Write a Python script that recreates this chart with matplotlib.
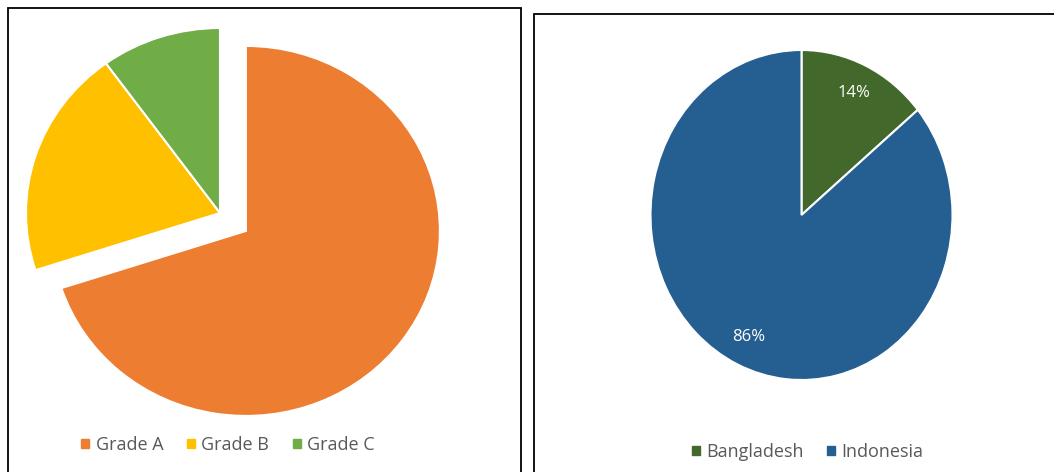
import matplotlib.pyplot as plt
from matplotlib.patches import Patch, Rectangle

plt.rcParams['font.family'] = ['Open Sans', 'DejaVu Sans']

# left chart: grades
grade_labels = ['Grade A', 'Grade B', 'Grade C']
grade_values = [70, 20, 10]
grade_colors = ['#ED7D31', '#FFC000', '#70AD47']

# right chart: countries
country_labels = ['Bangladesh', 'Indonesia']
country_values = [14, 86]
country_colors = ['#43682B', '#255E91']

W, H = 1054, 472
fig = plt.figure(figsize=(W / 100, H / 100), dpi=100)


def px_axes(cx, cy, rx, ry, lim=1.2):
    # axes placed so that radius 1 maps to rx/ry pixels around (cx, cy)
    w = 2 * lim * rx
    h = 2 * lim * ry
    ax = fig.add_axes([(cx - w / 2) / W, 1 - (cy + h / 2) / H, w / W, h / H])
    return ax


def finish(ax, lim=1.2):
    ax.set_xlim(-lim, lim)
    ax.set_ylim(-lim, lim)
    ax.set_aspect('auto')
    ax.axis('off')


# panel borders
fig.add_artist(Rectangle((8 / W, -0.02), (521 - 8) / W, 1 - 8 / H + 0.02,
                         transform=fig.transFigure, fill=False, ec='black', lw=1.3))
fig.add_artist(Rectangle((534 / W, -0.02), 0.5, 1 - 14 / H + 0.02,
                         transform=fig.transFigure, fill=False, ec='black', lw=1.3))

# left pie
ax1 = px_axes(220, 213, 194, 185)
ax1.pie(grade_values, colors=grade_colors, startangle=90, counterclock=False,
        explode=[0.165, 0, 0],
        wedgeprops=dict(edgecolor='white', linewidth=1.5))
finish(ax1)

# right pie
ax2 = px_axes(801.5, 215, 151, 165)
wedges, texts, autotexts = ax2.pie(
    country_values, colors=country_colors, startangle=90, counterclock=False,
    autopct='%1.0f%%', pctdistance=0.82,
    wedgeprops=dict(edgecolor='white', linewidth=1.5),
    textprops=dict(color='white', fontsize=12))
finish(ax2)

# legends
h1 = [Patch(color=c) for c in grade_colors]
fig.legend(h1, grade_labels, loc='center', bbox_to_anchor=(228 / W, 1 - 445 / H),
           ncol=3, frameon=False, handlelength=0.45, handleheight=0.45,
           handletextpad=0.35, columnspacing=1.3, fontsize=13, labelcolor='#595959')

h2 = [Patch(color=c) for c in country_colors]
fig.legend(h2, country_labels, loc='center', bbox_to_anchor=(807.5 / W, 1 - 452 / H),
           ncol=2, frameon=False, handlelength=0.45, handleheight=0.45,
           handletextpad=0.35, columnspacing=1.3, fontsize=13, labelcolor='#595959')

fig.savefig('out.png', dpi=100)
